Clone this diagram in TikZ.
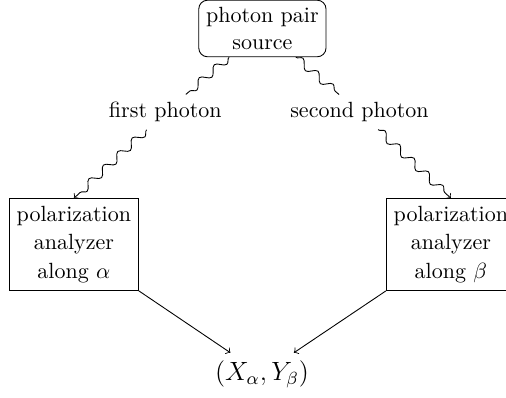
\documentclass[tikz,border=0pt]{standalone}
\usetikzlibrary{decorations.pathmorphing}
\tikzset{
  photon/.style={decorate, decoration={snake, segment length=9pt, amplitude=1.8pt, post length=2pt}},
  analyzer/.style={draw, align=center},
}
\begin{document}
\begin{tikzpicture}
  \useasboundingbox (0,0) rectangle (8.08,6.34);
  \node[draw, rounded corners, align=center] (src) at (4.19,5.885) {photon pair\\source};
  \node (first) at (2.64,4.55) {first photon};
  \node (second) at (5.74,4.55) {second photon};
  \node[analyzer] (lbox) at (1.18,2.434) {polarization\\[1pt]analyzer\\[1pt]along $\alpha$};
  \node[analyzer] (rbox) at (7.20,2.434) {polarization\\[1pt]analyzer\\[1pt]along $\beta$};
  \node (res) at (4.185,0.366) {\large $(X_\alpha,Y_\beta)$};
  % photons
  \draw[photon] (src) -- (first);
  \draw[photon, ->] (first) -- (lbox.north);
  \draw[photon] (src) -- (second);
  \draw[photon, ->] (second) -- (rbox.north);
  % measurement outcomes
  \draw[->] (lbox.south east) -- (res);
  \draw[->] (rbox.south west) -- (res);
\end{tikzpicture}
\end{document}
